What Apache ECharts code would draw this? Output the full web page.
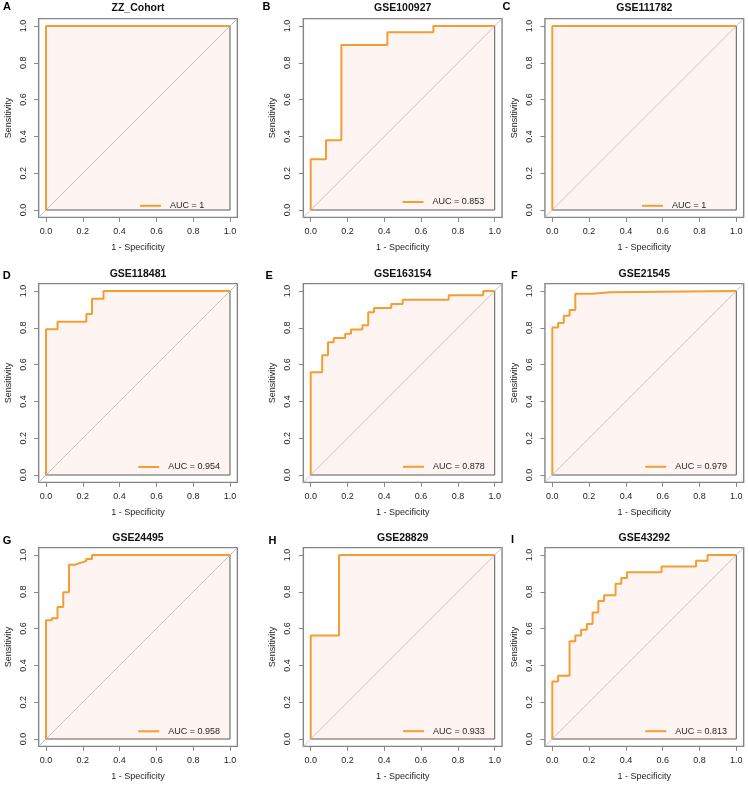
<!DOCTYPE html>
<html><head><meta charset="utf-8">
<script src="https://cdn.jsdelivr.net/npm/echarts@6/dist/echarts.min.js"></script>
<style>html,body{margin:0;padding:0;background:#fff}#c{width:748px;height:786px}</style>
</head><body><div id="c"></div>
<script>
// ---------------- data ----------------
const panelLetters = ['A','B','C','D','E','F','G','H','I'];
const panelTitles = ['ZZ_Cohort','GSE100927','GSE111782','GSE118481','GSE163154','GSE21545','GSE24495','GSE28829','GSE43292'];
const aucLabels = ['AUC = 1','AUC = 0.853','AUC = 1','AUC = 0.954','AUC = 0.878','AUC = 0.979','AUC = 0.958','AUC = 0.933','AUC = 0.813'];
const tickValues = [0, 0.2, 0.4, 0.6, 0.8, 1.0];

// ROC step points: 1 - specificity (fpr) and sensitivity (tpr)
const fprA = [0, 0, 1];
const tprA = [0, 1, 1];
const fprB = [0, 0, 0.0833, 0.1667, 0.4167, 0.6667, 1];
const tprB = [0, 0.276, 0.379, 0.897, 0.966, 1, 1];
const fprC = [0, 0, 1];
const tprC = [0, 1, 1];
const fprD = [0, 0, 0.0625, 0.219, 0.25, 0.3125, 1];
const tprD = [0, 0.792, 0.833, 0.875, 0.958, 1, 1];
const fprE = [0, 0, 0.0625, 0.094, 0.125, 0.1875, 0.219, 0.281, 0.3125, 0.344, 0.4375, 0.5, 0.75, 0.9375, 1];
const tprE = [0, 0.558, 0.651, 0.721, 0.744, 0.767, 0.791, 0.814, 0.884, 0.907, 0.930, 0.953, 0.977, 1, 1];
const fprF = [0, 0, 0.03125, 0.0625, 0.09375, 0.125, 0.21875, 0.3125, 1];
const tprF = [0, 0.801, 0.826, 0.865, 0.897, 0.985, 0.993, 1, 1];
const fprG = [0, 0, 0.03125, 0.0625, 0.09375, 0.125, 0.15625, 0.1875, 0.21875, 0.25, 1];
const tprG = [0, 0.645, 0.656, 0.717, 0.797, 0.947, 0.957, 0.967, 0.978, 1, 1];
const fprH = [0, 0, 0.154, 1];
const tprH = [0, 0.5625, 1, 1];
const fprI = [0, 0, 0.03125, 0.09375, 0.125, 0.15625, 0.1875, 0.21875, 0.25, 0.28125, 0.34375, 0.375, 0.40625, 0.59375, 0.78125, 0.84375, 1];
const tprI = [0, 0.3125, 0.34375, 0.53125, 0.5625, 0.59375, 0.625, 0.6875, 0.75, 0.78125, 0.84375, 0.875, 0.90625, 0.9375, 0.96875, 1, 1];

const fprList = [fprA, fprB, fprC, fprD, fprE, fprF, fprG, fprH, fprI];
const tprList = [tprA, tprB, tprC, tprD, tprE, tprF, tprG, tprH, tprI];

// ---------------- layout ----------------
const AX_MIN = -0.04, AX_MAX = 1.04;
const colLeft = [46, 310.7, 552.3];     // pixel of x = 0
const rowTop = [26, 291, 555];          // pixel of y = 1
const dataSize = 184;
const ext = dataSize * 0.04;
const titleY = [8.3, 273.7, 538];
const letterPos = [[3,7.2],[262.5,7.2],[502.5,7.2],[2.7,275.5],[265.5,275.5],[511,275.5],[2.7,540.5],[268.5,540.5],[511,540.3]];
const legendPos = [[140,202.3],[402.5,198.5],[642,202.3],[138.3,463.5],[403,463.3],[645.3,463.3],[138.3,727.8],[403,727.7],[645.3,727.7]];

const FONT = 'Liberation Sans, Arial, Helvetica, sans-serif';
const ORANGE = '#F59D33';
const PINK = '#FEF5F2';
const BOX = '#858585';
const TXT = '#1e1e1e';

const grids = [], xAxes = [], yAxes = [], series = [], legends = [], graphics = [];

for (let i = 0; i < 9; i++) {
  const c = i % 3, r = Math.floor(i / 3);
  const x0 = colLeft[c], y1 = rowTop[r];
  grids.push({
    left: x0 - ext, top: y1 - ext,
    width: dataSize + 2 * ext, height: dataSize + 2 * ext,
    show: true, borderColor: BOX, borderWidth: 1.4, backgroundColor: 'transparent'
  });
  const axisCommon = {
    type: 'value', min: AX_MIN, max: AX_MAX, gridIndex: i,
    splitLine: { show: false },
    axisLine: { show: false, onZero: false },
    axisTick: { show: true, inside: false, length: 4.5, customValues: tickValues, lineStyle: { color: BOX, width: 1 } },
    nameLocation: 'middle',
    nameTextStyle: { fontFamily: FONT, fontSize: 9, color: TXT }
  };
  xAxes.push(Object.assign({}, axisCommon, {
    position: 'bottom',
    name: '1 - Specificity', nameGap: 26,
    axisLabel: { customValues: tickValues, margin: 10, fontFamily: FONT, fontSize: 9, color: TXT,
      formatter: v => v.toFixed(1) }
  }));
  yAxes.push(Object.assign({}, axisCommon, {
    position: 'left',
    name: 'Sensitivity', nameGap: 26,
    axisLabel: { customValues: tickValues, margin: 11, rotate: 90, fontFamily: FONT, fontSize: 9, color: TXT,
      formatter: v => v.toFixed(1) }
  }));

  const pts = fprList[i].map((f, k) => [f, tprList[i][k]]);
  // AUC polygon fill
  series.push({
    type: 'line', xAxisIndex: i, yAxisIndex: i, data: pts, step: 'end',
    symbol: 'none', silent: true, z: 1,
    lineStyle: { width: 0, opacity: 0 },
    areaStyle: { color: PINK, opacity: 1 }
  });
  // identity line
  series.push({
    type: 'line', xAxisIndex: i, yAxisIndex: i,
    data: [[AX_MIN, AX_MIN], [AX_MAX, AX_MAX]],
    symbol: 'none', silent: true, z: 2,
    lineStyle: { color: '#c4c4c4', width: 1 }
  });
  // polygon border (bottom and right)
  series.push({
    type: 'line', xAxisIndex: i, yAxisIndex: i,
    data: [[0, 0], [1, 0], [1, 1]],
    symbol: 'none', silent: true, z: 3,
    lineStyle: { color: '#5a5a5a', width: 1 }
  });
  // ROC curve
  series.push({
    name: aucLabels[i],
    type: 'line', xAxisIndex: i, yAxisIndex: i, data: pts, step: 'end',
    symbol: 'none', silent: true, z: 4,
    color: ORANGE,
    lineStyle: { color: ORANGE, width: 2 }
  });

  legends.push({
    data: [aucLabels[i]], left: legendPos[i][0], top: legendPos[i][1] - 1,
    padding: 0, itemWidth: 21, itemHeight: 2, icon: 'rect', selectedMode: false,
    itemStyle: { color: ORANGE },
    textStyle: { fontFamily: FONT, fontSize: 9, color: TXT, padding: [0, 0, 0, 4] }
  });

  graphics.push({
    type: 'text', x: x0 + dataSize / 2, y: titleY[r],
    style: { text: panelTitles[i], fontFamily: FONT, fontSize: 10.5, fontWeight: 'bold', fill: '#111', align: 'center', verticalAlign: 'middle' }
  });
  graphics.push({
    type: 'text', x: letterPos[i][0], y: letterPos[i][1],
    style: { text: panelLetters[i], fontFamily: FONT, fontSize: 11, fontWeight: 'bold', fill: '#000', align: 'left', verticalAlign: 'middle' }
  });
}

const chart = echarts.init(document.getElementById('c'), null, { renderer: 'canvas' });
chart.setOption({
  animation: false,
  backgroundColor: '#ffffff',
  grid: grids, xAxis: xAxes, yAxis: yAxes,
  series: series, legend: legends, graphic: graphics
});
</script>
</body></html>
